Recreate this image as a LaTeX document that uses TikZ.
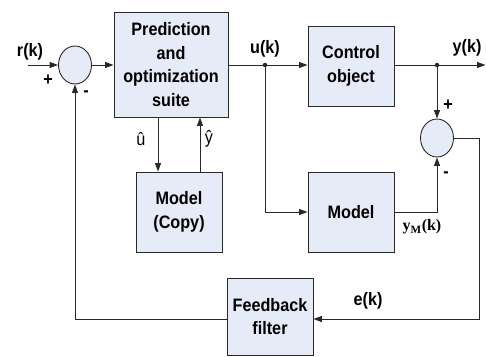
\documentclass[tikz,border=0pt]{standalone}
\usepackage{fontspec}
\setmainfont{Liberation Sans}
\newfontfamily\condsans[FakeStretch=0.9]{Liberation Sans}
\newfontfamily\serifbf{Liberation Serif}
\usetikzlibrary{arrows.meta,shapes.geometric}
\definecolor{boxfill}{RGB}{230,236,247}
\definecolor{linegrey}{RGB}{40,40,40}

\begin{document}
\begin{tikzpicture}[x=1pt,y=-1pt,
  block/.style={draw=linegrey, line width=0.9pt, fill=boxfill,
    font=\condsans\bfseries\fontsize{18}{23.5}\selectfont, align=center, inner sep=0pt},
  sumnode/.style={ellipse, draw=linegrey, fill=boxfill, line width=0.9pt,
    minimum width=33pt, minimum height=38pt, inner sep=0pt},
  wire/.style={draw=linegrey, line width=0.9pt},
  arr/.style={wire, -{Triangle[length=8.5pt,width=6pt]}},
  lbl/.style={font=\condsans\bfseries\fontsize{18}{20}\selectfont, inner sep=0pt},
  dotn/.style={circle, fill=linegrey, inner sep=0pt, minimum size=4.5pt}]

\useasboundingbox (0,0) rectangle (486,356);

% blocks
\node[block, minimum width=114pt, minimum height=105pt] (pred) at (171,64.5)
  {Prediction\\and\\optimization\\suite};
\node[block, minimum width=86pt, minimum height=80pt] (ctrl) at (351,66)
  {Control\\object};
\node[block, minimum width=86pt, minimum height=80pt] (mcopy) at (179,212)
  {Model\\(Copy)};
\node[block, minimum width=86pt, minimum height=80pt] (model) at (351,212)
  {Model};
\node[block, minimum width=86pt, minimum height=77pt] (fb) at (270,316.5)
  {Feedback\\filter};

% summing junctions
\node[sumnode] (s1) at (75,65) {};
\node[sumnode] (s2) at (437,138) {};

% branch points
\node[dotn] (du) at (265,65) {};
\node[dotn] (dy) at (437,65) {};

% free ends and corners
\coordinate (rin) at (28,65);
\coordinate (yout) at (485.5,65);
\coordinate (ecorner) at (479,319);
\coordinate (ux) at (158,0);
\coordinate (yx) at (200,0);

% connectors
\draw[arr] (rin) -- (s1.west);
\draw[arr] (s1.east) -- (s1.east -| pred.west);
\draw[wire] (pred.east |- du) -- (du);
\draw[arr] (du) -- (du -| ctrl.west);
\draw[wire] (ctrl.east |- dy) -- (dy);
\draw[arr] (dy) -- (yout);
\draw[arr] (dy) -- (s2.north);
\draw[arr] (du) |- (model.west);
\draw[arr] (model.east) -| (s2.south);
\draw[arr] (s2.east) -| (ecorner) -- (ecorner -| fb.east);
\draw[arr] (fb.west |- ecorner) -| (s1.south);
\draw[arr] (pred.south -| ux) -- (mcopy.north -| ux);
\draw[arr] (mcopy.north -| yx) -- (pred.south -| yx);

% labels
\node[lbl] (lr) at (30,52) {r(k)};
\node[lbl] (lp1) at (48,80) {+};
\node[lbl] (lm1) at (86,94) {-};
\node[lbl] (lu) at (265,49) {u(k)};
\node[lbl] (ly) at (467,48) {y(k)};
\node[lbl] (lp2) at (448,105) {+};
\node[lbl] (lm2) at (446,175) {-};
\node[font=\serifbf\bfseries\fontsize{16}{18}\selectfont, inner sep=0pt] (lym) at (422,227)
  {y\textsubscript{M}(k)};
\node[lbl] (le) at (368,301) {e(k)};
\node[font=\condsans\fontsize{18}{20}\selectfont, inner sep=0pt] (luh) at (141,139) {û};
\node[font=\condsans\fontsize{18}{20}\selectfont, inner sep=0pt] (lyh) at (209,139) {ŷ};
\end{tikzpicture}
\end{document}
